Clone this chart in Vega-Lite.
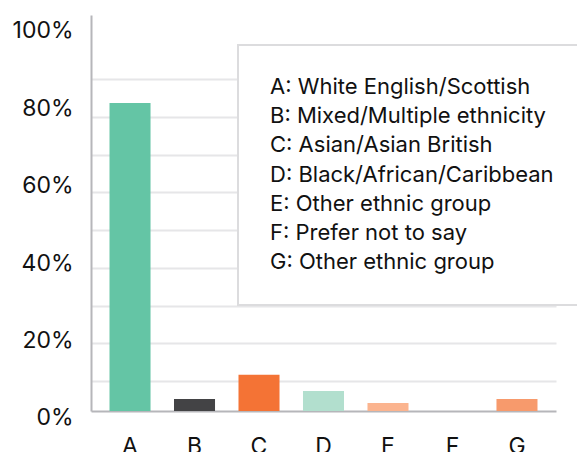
{
  "$schema": "https://vega.github.io/schema/vega-lite/v6.json",
  "autosize": "none",
  "width": 465,
  "height": 396,
  "padding": {"left": 91, "top": 15, "right": 21, "bottom": 41},
  "background": "white",
  "data": {
    "values": [
      {"group": "A", "name": "A: White English/Scottish", "share": 83.7},
      {"group": "B", "name": "B: Mixed/Multiple ethnicity", "share": 5.3},
      {"group": "C", "name": "C: Asian/Asian British", "share": 11.7},
      {"group": "D", "name": "D: Black/African/Caribbean", "share": 7.4},
      {"group": "E", "name": "E: Other ethnic group", "share": 4.2},
      {"group": "F", "name": "F: Prefer not to say", "share": 0},
      {"group": "G", "name": "G: Other ethnic group", "share": 5.3}
    ]
  },
  "mark": {"type": "bar"},
  "encoding": {
    "x": {
      "field": "group",
      "type": "nominal",
      "scale": {"paddingInner": 0.364, "paddingOuter": 0.287},
      "axis": {
        "title": null,
        "labelAngle": 0,
        "labelFont": "Inter",
        "labelFontSize": 23,
        "labelColor": "#111111",
        "labelPadding": 24,
        "ticks": false,
        "tickSize": 0,
        "domainColor": "#b6b6ba",
        "domainWidth": 2,
        "grid": false
      }
    },
    "y": {
      "field": "share",
      "type": "quantitative",
      "scale": {"domain": [2.1, 107], "zero": false, "nice": false, "clamp": true},
      "axis": {
        "title": null,
        "values": [0, 10, 20, 30, 40, 50, 60, 70, 80, 90, 100],
        "labelExpr": "datum.value % 20 == 0 ? datum.value + '%' : ''",
        "labelFont": "Inter",
        "labelFontSize": 23,
        "labelColor": "#111111",
        "labelPadding": 18,
        "labelOffset": {
          "condition": [
            {"test": "datum.value == 0", "value": 6},
            {"test": "datum.value == 20", "value": -2.5},
            {"test": "datum.value == 40", "value": -4.5},
            {"test": "datum.value == 60", "value": -6.5},
            {"test": "datum.value == 80", "value": -8.5}
          ],
          "value": -10.5
        },
        "ticks": false,
        "tickSize": 0,
        "domainColor": "#b6b6ba",
        "domainWidth": 2,
        "grid": true,
        "gridColor": "#e6e6e8",
        "gridWidth": 2,
        "gridOpacity": {"condition": {"test": "datum.value == 0 || datum.value == 100", "value": 0}, "value": 1}
      }
    },
    "color": {
      "field": "name",
      "type": "nominal",
      "scale": {
        "range": ["#64c5a5", "#434345", "#f47335", "#b2dfce", "#fbb48f", "#cfcfd2", "#f79a6c"]
      },
      "legend": {
        "title": null,
        "orient": "none",
        "legendX": 147,
        "legendY": 30,
        "padding": 31,
        "fillColor": "white",
        "strokeColor": "#dcdcde",
        "symbolSize": 0,
        "symbolOpacity": 0,
        "symbolStrokeWidth": 0,
        "labelOffset": -21,
        "labelFont": "Inter",
        "labelFontSize": 22,
        "labelColor": "#111111",
        "labelLimit": 400,
        "rowPadding": 7.2,
        "encode": {"legend": {"update": {"strokeWidth": {"value": 2}}}}
      }
    }
  },
  "config": {
    "view": {"stroke": null}
  }
}
